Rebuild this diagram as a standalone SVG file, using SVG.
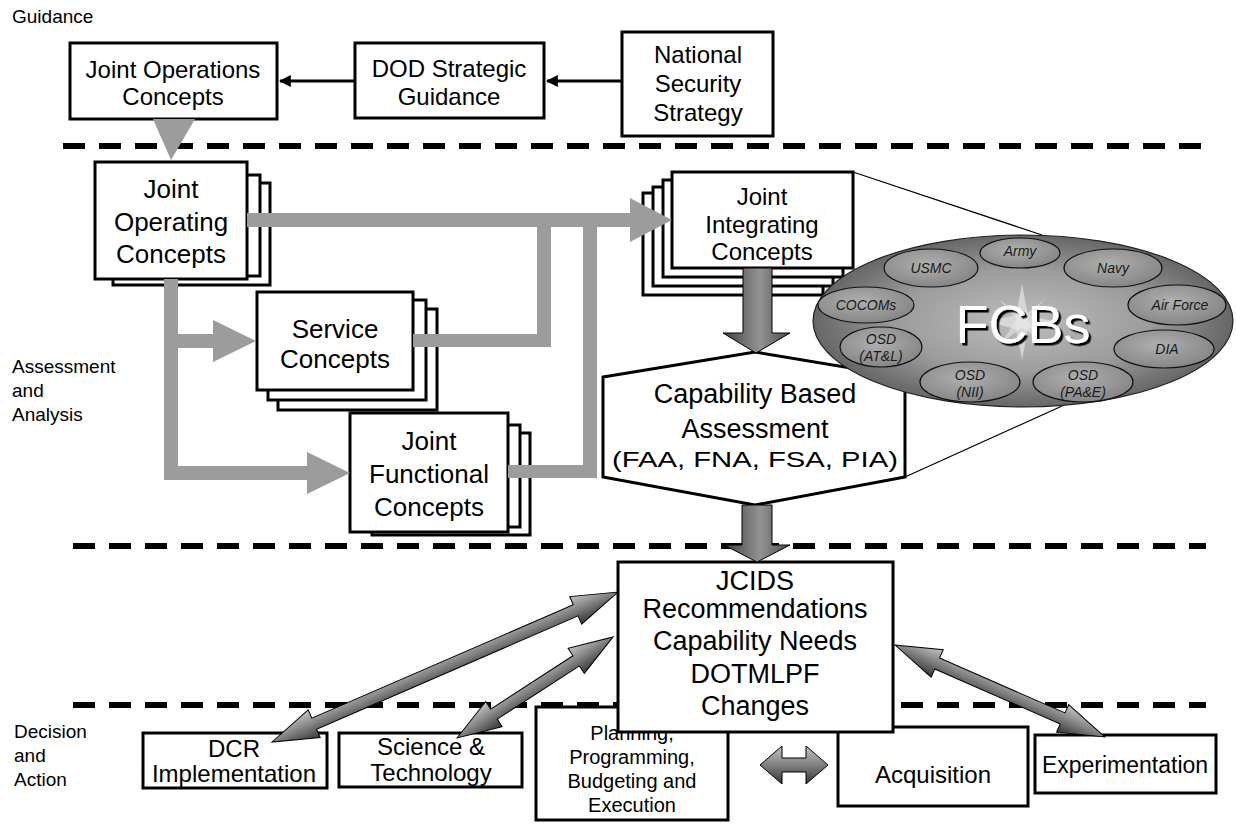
<svg xmlns="http://www.w3.org/2000/svg" width="1236" height="825" viewBox="0 0 1236 825">
  <defs>
    <style>
      .t { font-family: "Liberation Sans", Arial, Helvetica, sans-serif; fill: #000; text-anchor: middle; }
      .lbl { font-family: "Liberation Sans", Arial, Helvetica, sans-serif; fill: #000; font-size: 19px; }
      .box { fill: #fff; stroke: #000; stroke-width: 3; }
      .dash { fill: none; stroke: #000; stroke-width: 6; stroke-dasharray: 22 14; }
      .flow { fill: #9c9c9c; stroke: none; }
      .dark { fill: url(#gDown); stroke: #000; stroke-width: 1; }
      .dbl { fill: url(#gDbl); stroke: #000; stroke-width: 1; }
      .fcb { fill: url(#gSmall); stroke: #111; stroke-width: 1.2; }
      .fcbt { font-family: "Liberation Sans", Arial, Helvetica, sans-serif; font-style: italic; font-size: 14px; fill: #1a1a1a; text-anchor: middle; }
      .thin { fill: none; stroke: #000; stroke-width: 1.2; }
    </style>
    <linearGradient id="gDown" x1="0" y1="0" x2="1" y2="0">
      <stop offset="0" stop-color="#404040"/>
      <stop offset="0.55" stop-color="#939393"/>
      <stop offset="1" stop-color="#4a4a4a"/>
    </linearGradient>
    <linearGradient id="gDbl" x1="0" y1="0" x2="0" y2="1">
      <stop offset="0" stop-color="#c4c4c4"/>
      <stop offset="0.5" stop-color="#808080"/>
      <stop offset="1" stop-color="#363636"/>
    </linearGradient>
    <radialGradient id="gBig" cx="0.5" cy="0.5" r="0.5">
      <stop offset="0" stop-color="#bdbdbd"/>
      <stop offset="0.6" stop-color="#9c9c9c"/>
      <stop offset="1" stop-color="#666"/>
    </radialGradient>
    <radialGradient id="gSmall" cx="0.45" cy="0.4" r="0.6">
      <stop offset="0" stop-color="#b0b0b0"/>
      <stop offset="1" stop-color="#868686"/>
    </radialGradient>
    <filter id="fShadow" x="-10%" y="-20%" width="130%" height="150%">
      <feDropShadow dx="2.5" dy="2.5" stdDeviation="0.4" flood-color="#000" flood-opacity="1"/>
    </filter>
    <marker id="mHead" viewBox="0 0 10 10" refX="9" refY="5" markerWidth="4" markerHeight="4" orient="auto">
      <path d="M0,0 L10,5 L0,10 Z" fill="#000"/>
    </marker>
  </defs>

  <!-- section separators -->
  <g id="separators">
    <line class="dash" x1="63" y1="146" x2="1206" y2="146"/>
    <line class="dash" x1="73" y1="546" x2="1206" y2="546"/>
    <line class="dash" x1="73" y1="705" x2="1206" y2="705"/>
  </g>

  <!-- section labels -->
  <g id="section-labels">
    <text class="lbl" x="12" y="23">Guidance</text>
    <text class="lbl" x="12" y="373">Assessment</text>
    <text class="lbl" x="12" y="397">and</text>
    <text class="lbl" x="12" y="421">Analysis</text>
    <text class="lbl" x="14" y="738">Decision</text>
    <text class="lbl" x="14" y="762">and</text>
    <text class="lbl" x="14" y="786">Action</text>
  </g>

  <!-- guidance tier -->
  <g id="joint-operations-concepts">
    <rect class="box" x="70" y="43" width="207" height="76"/>
    <text class="t" x="173" y="78" font-size="24">Joint Operations</text>
    <text class="t" x="173" y="105" font-size="24">Concepts</text>
  </g>
  <g id="dod-strategic-guidance">
    <rect class="box" x="355" y="43" width="189" height="75"/>
    <text class="t" x="449" y="77" font-size="24">DOD Strategic</text>
    <text class="t" x="449" y="105" font-size="24">Guidance</text>
  </g>
  <g id="national-security-strategy">
    <rect class="box" x="622" y="32" width="151" height="104"/>
    <text class="t" x="698" y="63" font-size="24">National</text>
    <text class="t" x="698" y="92" font-size="24">Security</text>
    <text class="t" x="698" y="121" font-size="24">Strategy</text>
  </g>

  <!-- assessment tier: concept stacks -->
  <g id="joint-operating-concepts">
    <rect class="box" x="113" y="183" width="157" height="102"/>
    <rect class="box" x="105" y="175" width="155" height="101"/>
    <rect class="box" x="95" y="162" width="152" height="117"/>
    <text class="t" x="171" y="198" font-size="26">Joint</text>
    <text class="t" x="171" y="231" font-size="26">Operating</text>
    <text class="t" x="171" y="263" font-size="26">Concepts</text>
  </g>
  <g id="service-concepts">
    <rect class="box" x="278" y="309" width="159" height="101"/>
    <rect class="box" x="268" y="300" width="158" height="100"/>
    <rect class="box" x="257" y="292" width="156" height="98"/>
    <text class="t" x="335" y="338" font-size="26">Service</text>
    <text class="t" x="335" y="368" font-size="26">Concepts</text>
  </g>
  <g id="joint-functional-concepts">
    <rect class="box" x="372" y="433" width="158" height="102"/>
    <rect class="box" x="360" y="425" width="160" height="102"/>
    <rect class="box" x="350" y="413" width="158" height="119"/>
    <text class="t" x="429" y="450" font-size="26">Joint</text>
    <text class="t" x="429" y="483" font-size="26">Functional</text>
    <text class="t" x="429" y="516" font-size="26">Concepts</text>
  </g>
  <g id="joint-integrating-concepts">
    <rect class="box" x="643" y="193" width="180" height="102"/>
    <rect class="box" x="653" y="187" width="180" height="99"/>
    <rect class="box" x="663" y="180" width="180" height="97"/>
    <rect class="box" x="672" y="172" width="181" height="96"/>
    <text class="t" x="762" y="205" font-size="24">Joint</text>
    <text class="t" x="762" y="233" font-size="24">Integrating</text>
    <text class="t" x="762" y="260" font-size="24">Concepts</text>
  </g>
  <g id="capability-based-assessment">
    <polygon class="box" points="603,377 755,352 905,377 905,477 755,505 603,477"/>
    <text class="t" x="755" y="403" font-size="27">Capability Based</text>
    <text class="t" x="755" y="438" font-size="27">Assessment</text>
    <text class="t" x="755" y="467" font-size="22" textLength="286" lengthAdjust="spacingAndGlyphs">(FAA, FNA, FSA, PIA)</text>
  </g>

  <!-- functional capabilities boards with callout lines -->
  <g id="fcbs">
    <line class="thin" x1="853" y1="172" x2="1042" y2="235"/>
    <line class="thin" x1="905" y1="477" x2="1062" y2="406"/>
    <ellipse cx="1023" cy="321" rx="210" ry="86" fill="url(#gBig)" stroke="#222" stroke-width="1.2"/>
    <polygon points="1022,284 1028,315 1056,322 1028,329 1022,360 1016,329 988,322 1016,315" fill="#e6e6e6" opacity="0.7"/>
    <polygon points="1045,299 1027,320 1045,345 1022,327 999,345 1017,320 999,299 1022,317" fill="#f2f2f2" opacity="0.45"/>
    <ellipse class="fcb" cx="1020" cy="253" rx="40" ry="15"/>
    <text class="fcbt" x="1020" y="256">Army</text>
    <ellipse class="fcb" cx="931" cy="268" rx="47" ry="19"/>
    <text class="fcbt" x="931" y="273">USMC</text>
    <ellipse class="fcb" cx="1113" cy="268" rx="49" ry="19"/>
    <text class="fcbt" x="1113" y="273">Navy</text>
    <ellipse class="fcb" cx="866" cy="305" rx="48" ry="18"/>
    <text class="fcbt" x="866" y="310">COCOMs</text>
    <ellipse class="fcb" cx="1177" cy="305" rx="49" ry="20"/>
    <text class="fcbt" x="1180" y="310">Air Force</text>
    <ellipse class="fcb" cx="881" cy="347" rx="41" ry="20"/>
    <text class="fcbt" x="881" y="344">OSD</text>
    <text class="fcbt" x="881" y="361">(AT&amp;L)</text>
    <ellipse class="fcb" cx="1164" cy="349" rx="50" ry="19"/>
    <text class="fcbt" x="1167" y="354">DIA</text>
    <ellipse class="fcb" cx="970" cy="382" rx="50" ry="20"/>
    <text class="fcbt" x="970" y="380">OSD</text>
    <text class="fcbt" x="970" y="397">(NII)</text>
    <ellipse class="fcb" cx="1083" cy="382" rx="50" ry="20"/>
    <text class="fcbt" x="1083" y="380">OSD</text>
    <text class="fcbt" x="1083" y="397">(PA&amp;E)</text>
    <text class="t" x="1023" y="343" font-size="54" style="fill:#fff" filter="url(#fShadow)">FCBs</text>
  </g>

  <!-- decision tier -->
  <g id="ppbe">
    <rect class="box" x="536" y="707" width="192" height="113"/>
    <text class="t" x="632" y="740" font-size="20">Planning,</text>
    <text class="t" x="632" y="764" font-size="20">Programming,</text>
    <text class="t" x="632" y="788" font-size="20">Budgeting and</text>
    <text class="t" x="632" y="812" font-size="20">Execution</text>
  </g>
  <g id="acquisition">
    <rect class="box" x="838" y="727" width="190" height="79"/>
    <text class="t" x="933" y="783" font-size="24">Acquisition</text>
  </g>
  <g id="experimentation">
    <rect class="box" x="1035" y="735" width="181" height="58"/>
    <text class="t" x="1125" y="773" font-size="23">Experimentation</text>
  </g>
  <g id="dcr-implementation">
    <rect class="box" x="143" y="733" width="184" height="55"/>
    <text class="t" x="234" y="757" font-size="24">DCR</text>
    <text class="t" x="234" y="782" font-size="24">Implementation</text>
  </g>
  <g id="science-technology">
    <rect class="box" x="339" y="733" width="183" height="54"/>
    <text class="t" x="431" y="755" font-size="24">Science &amp;</text>
    <text class="t" x="431" y="781" font-size="24">Technology</text>
  </g>
  <g id="jcids-recommendations">
    <rect class="box" x="618" y="562" width="275" height="170"/>
    <text class="t" x="755" y="590" font-size="27">JCIDS</text>
    <text class="t" x="755" y="618" font-size="27">Recommendations</text>
    <text class="t" x="755" y="650" font-size="27">Capability Needs</text>
    <text class="t" x="755" y="683" font-size="27">DOTMLPF</text>
    <text class="t" x="755" y="715" font-size="27">Changes</text>
  </g>

  <!-- connectors -->
  <g id="connectors">
    <!-- guidance chain -->
    <line x1="622" y1="81" x2="547" y2="81" stroke="#000" stroke-width="3" marker-end="url(#mHead)"/>
    <line x1="355" y1="81" x2="280" y2="81" stroke="#000" stroke-width="3" marker-end="url(#mHead)"/>
    <polygon class="flow" points="153,119 195,119 171,160"/>
    <!-- concept flows -->
    <rect class="flow" x="247" y="213" width="383" height="14"/>
    <polygon class="flow" points="630,198 672,220 630,242"/>
    <rect class="flow" x="413" y="334" width="138" height="13"/>
    <rect class="flow" x="537" y="213" width="14" height="134"/>
    <rect class="flow" x="508" y="465" width="89" height="13"/>
    <rect class="flow" x="583" y="213" width="14" height="265"/>
    <rect class="flow" x="164" y="279" width="14" height="201"/>
    <rect class="flow" x="164" y="334" width="49" height="14"/>
    <polygon class="flow" points="213,320 256,341 213,362"/>
    <rect class="flow" x="164" y="466" width="143" height="14"/>
    <polygon class="flow" points="307,452 350,473 307,494"/>
    <!-- assessment to recommendations -->
    <polygon class="dark" points="743,268 772,268 772,333 790,333 756,353 723,333 743,333"/>
    <polygon class="dark" points="742,505 772,505 772,545 790,545 757,562 724,545 742,545"/>
    <!-- two-way links -->
    <polygon class="dbl" transform="translate(272,742) rotate(-23.44)" points="0,0 46,-15 46,-6 331,-6 331,-15 377,0 331,15 331,6 46,6 46,15"/>
    <polygon class="dbl" transform="translate(457,738) rotate(-32.92)" points="0,0 44,-15 44,-6 142,-6 142,-15 186,0 142,15 142,6 44,6 44,15"/>
    <polygon class="dbl" transform="translate(895,645) rotate(23.66)" points="0,0 46,-15 46,-6 183,-6 183,-15 229,0 183,15 183,6 46,6 46,15"/>
    <polygon class="dbl" transform="translate(760,765)" points="0,0 22,-19 22,-7 46,-7 46,-19 68,0 46,19 46,7 22,7 22,19"/>
  </g>
</svg>
